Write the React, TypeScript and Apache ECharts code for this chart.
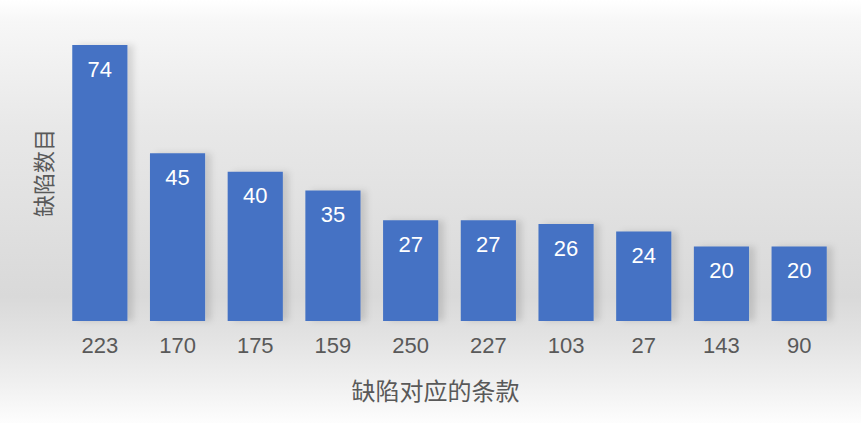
import { useEffect, useRef } from 'react';
import * as echarts from 'echarts';

const categories = ['223', '170', '175', '159', '250', '227', '103', '27', '143', '90'];
const defectCounts = [74, 45, 40, 35, 27, 27, 26, 24, 20, 20];

const FONT = '"Liberation Sans", Arial, "Noto Sans CJK SC", sans-serif';
const CJK = '"Noto Sans CJK SC", sans-serif';
const GREY = '#595959';

export default function App() {
  const ref = useRef<HTMLDivElement>(null);

  useEffect(() => {
    if (!ref.current) return;
    const chart = echarts.init(ref.current, undefined, { renderer: 'svg' });
    chart.setOption({
      animation: false,
      backgroundColor: new echarts.graphic.LinearGradient(0, 0, 0, 1, [
        { offset: 0, color: '#ffffff' },
        { offset: 0.05, color: '#f7f7f7' },
        { offset: 0.3, color: '#e8e8e8' },
        { offset: 0.7, color: '#d9d9d9' },
        { offset: 0.8, color: '#e3e3e3' },
        { offset: 0.9, color: '#efefef' },
        { offset: 1, color: '#fdfdfd' },
      ]),
      textStyle: { fontFamily: FONT },
      grid: { left: 61, right: 23, top: 45, bottom: 102 },
      xAxis: {
        type: 'category',
        data: categories,
        axisLine: { show: false },
        axisTick: { show: false },
        axisLabel: { color: GREY, fontSize: 22, margin: 13, fontFamily: FONT },
        name: '缺陷对应的条款',
        nameLocation: 'middle',
        nameGap: 56,
        nameTextStyle: { color: GREY, fontSize: 24, fontFamily: CJK, padding: [0, 28, 0, 0] },
      },
      yAxis: {
        type: 'value',
        min: 0,
        max: 74,
        axisLine: { show: false },
        axisTick: { show: false },
        axisLabel: { show: false },
        splitLine: { show: false },
        name: '缺陷数目',
        nameLocation: 'middle',
        nameGap: 8,
        nameRotate: 90,
        nameTextStyle: { color: GREY, fontSize: 22, fontFamily: CJK, padding: [0, 0, 0, 20] },
      },
      series: [
        {
          type: 'bar',
          data: defectCounts,
          barWidth: '71%',
          itemStyle: {
            color: '#4472c4',
            shadowColor: 'rgba(0, 0, 0, 0.12)',
            shadowBlur: 6,
            shadowOffsetX: 6,
            shadowOffsetY: 0,
          },
          label: {
            show: true,
            position: 'insideTop',
            distance: 13,
            color: '#ffffff',
            fontSize: 22,
            fontFamily: FONT,
          },
        },
      ],
    });
    return () => chart.dispose();
  }, []);

  return (
    <div
      ref={ref}
      style={{ position: 'fixed', left: 0, top: 0, width: 861, height: 423 }}
    />
  );
}
